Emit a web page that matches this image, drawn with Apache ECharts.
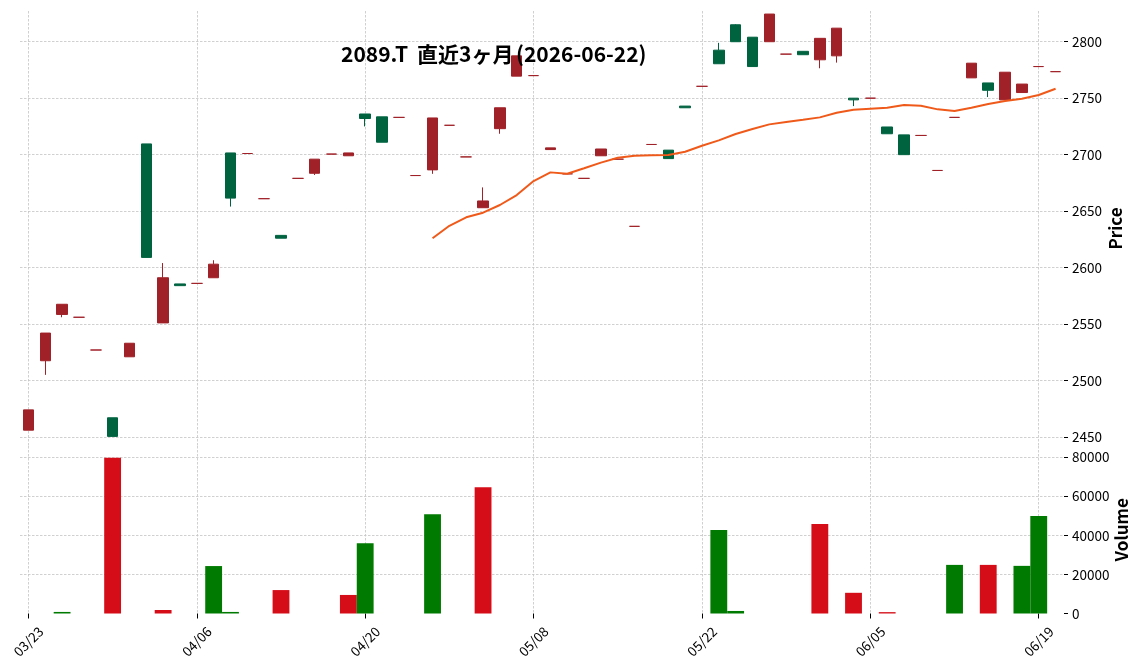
<!DOCTYPE html>
<html><head><meta charset="utf-8">
<script src="https://cdn.jsdelivr.net/npm/echarts@6/dist/echarts.min.js"></script>
<style>html,body{margin:0;padding:0;background:#fff}#c{width:1144px;height:670px}</style>
</head><body><div id="c"></div>
<script>
const dates = ['03/23','03/24','03/25','03/26','03/27','03/30','03/31','04/01','04/02','04/03',
'04/06','04/07','04/08','04/09','04/10','04/13','04/14','04/15','04/16','04/17',
'04/20','04/21','04/22','04/23','04/24','04/27','04/28','04/30','05/01','05/07',
'05/08','05/11','05/12','05/13','05/14','05/15','05/18','05/19','05/20','05/21',
'05/22','05/25','05/26','05/27','05/28','05/29','06/01','06/02','06/03','06/04',
'06/05','06/08','06/09','06/10','06/11','06/12','06/15','06/16','06/17','06/18',
'06/19','06/22'];
const opens = [2474,2542,2567.5,2556,2527,2450.5,2533,2609,2591,2584,
2586,2603,2661.5,2701,2661,2626,2679,2696,2700.5,2701.5,
2732,2711,2733,2681.5,2732.5,2726,2698,2659,2741.5,2787.5,
2770,2706,2683,2679,2705,2696,2636.5,2709,2696.5,2741.5,
2760.5,2780.5,2800,2778,2824.5,2789,2788.5,2803,2812,2748.5,
2750,2718.5,2700,2717,2686,2733,2781,2757,2773,2762.5,
2778,2773.5];
const closes = [2456,2517.5,2558.5,2556,2527,2467,2521,2709.5,2551,2585.5,
2586,2591,2701.5,2701,2661,2628.5,2679,2683.5,2700.5,2699,
2736,2733.5,2733,2681.5,2686.5,2726,2698,2653,2723,2769.5,
2770,2704.5,2683,2679,2699,2696,2636.5,2709,2704,2743,
2760.5,2792.5,2815,2804,2800,2789,2791.5,2784,2787.5,2750,
2750,2724.5,2717.5,2717,2686,2733,2768,2763.5,2748.5,2755,
2778,2773.5];
const lows = [2456,2505,2556,2556,2527,2450.5,2521,2609,2551,2584,
2586,2591,2654,2701,2661,2626,2679,2682,2700.5,2699,
2725,2711,2733,2681.5,2683,2726,2698,2653,2718.5,2769.5,
2770,2704.5,2683,2679,2699,2696,2636.5,2709,2696.5,2741.5,
2760.5,2780.5,2800,2778,2800,2789,2788.5,2776.5,2781.5,2743,
2750,2718.5,2700,2717,2686,2733,2768,2751,2748.5,2755,
2778,2773.5];
const highs = [2474,2542,2567.5,2556,2527,2467,2533,2709.5,2604,2585.5,
2586,2606.5,2701.5,2701,2661,2628.5,2679,2696,2700.5,2701.5,
2736,2733.5,2733,2681.5,2732.5,2726,2698,2671,2741.5,2787.5,
2770,2706,2683,2679,2705,2696,2636.5,2709,2704,2743,
2760.5,2799,2815.5,2804,2824.5,2789,2791.5,2803,2812,2750,
2750,2724.5,2717.5,2717,2686,2733,2781,2763.5,2773,2762.5,
2778,2773.5];
const volumes = [0,0,800,0,0,79800,0,0,1800,0,
0,24300,800,0,0,12000,0,0,0,9500,
36000,0,0,0,50900,0,0,64700,0,0,
0,0,0,0,0,0,0,0,0,0,
0,42800,1300,0,0,0,0,45800,0,10600,
0,700,0,0,0,24900,0,24900,0,24400,
49900,0];
const maStart = 24;
const ma25 = [2626,2637,2644.5,2648.6,2655.4,2664.2,2676.6,2684.3,2683.1,2687.9,
2692.9,2697.3,2699.1,2699.4,2699.7,2702.6,2707.9,2712.6,2718.3,2722.7,
2726.8,2728.9,2730.9,2733,2737.1,2739.8,2740.7,2741.6,2743.9,2743.3,
2740.1,2738.6,2741.6,2744.8,2747.5,2749.5,2752.8,2758.4];
const titleParts = ['2089.T', '直近3ヶ月', '(2026-06-22)'];

const UP = '#006340', DOWN = '#A02128', VUP = '#007a00', VDOWN = '#d50d18', MAC = '#ef5a1a';
const FONT = 'Noto Sans CJK JP';
const GRID = {color:'#c4c4c4', width:0.8, type:[2.5,1.5]};
const plain = v => String(v);

const candleData = dates.map((d,i)=>{
  const v = [opens[i], closes[i], lows[i], highs[i]];
  if (opens[i] === closes[i]) return {value:v, itemStyle:{color:DOWN,color0:DOWN,borderColor:DOWN,borderColor0:DOWN}};
  return v;
});
const volData = volumes.map((v,i)=>({value:v, itemStyle:{color: (i>0 && closes[i] < closes[i-1]) ? VDOWN : VUP}}));
const maData = dates.map((d,i)=> i < maStart ? null : ma25[i-maStart]);

function gridXAxis(gi){
  return {type:'value', gridIndex:gi, min:-0.5, max:dates.length-0.5, splitNumber:6, minInterval:10, maxInterval:10,
    axisLine:{show:false, onZero:false}, axisTick:{show:false}, axisLabel:{show:false},
    splitLine:{show:true, showMinLine:false, showMaxLine:false, lineStyle:GRID}};
}
const tStyle = {fontFamily:FONT, fontWeight:'bold', fontSize:21, color:'#000'};

const chart = echarts.init(document.getElementById('c'), null, {renderer:'canvas'});
chart.setOption({
  animation:false,
  backgroundColor:'#fff',
  title:{text:'{a|'+titleParts[0]+'}{b|'+titleParts[1]+'}{c|'+titleParts[2]+'}', left:341, top:44, padding:0,
    textStyle:Object.assign({}, tStyle, {rich:{
      a:Object.assign({}, tStyle, {width:76}),
      b:Object.assign({}, tStyle, {width:99}),
      c:Object.assign({}, tStyle)
    }})},
  grid:[
    {left:20, right:80, top:11, height:435},
    {left:20, right:80, top:446, height:167.5}
  ],
  xAxis:[
    {type:'category', gridIndex:0, data:dates, boundaryGap:true,
     axisLine:{show:false, onZero:false}, axisTick:{show:false}, axisLabel:{show:false}, splitLine:{show:false}},
    {type:'category', gridIndex:1, data:dates, boundaryGap:true,
     axisLine:{show:false, onZero:false},
     axisTick:{show:true, alignWithLabel:true, interval:9, length:5, lineStyle:{color:'#000', width:1}},
     axisLabel:{interval:9, rotate:45, align:'center', verticalAlign:'middle', margin:28, fontSize:13.5, color:'#000', fontFamily:FONT},
     splitLine:{show:false}},
    gridXAxis(0),
    gridXAxis(1)
  ],
  yAxis:[
    {type:'value', gridIndex:0, position:'right', min:2442, max:2827.2, splitNumber:8, minInterval:50, maxInterval:50,
     axisLine:{show:false, onZero:false},
     axisTick:{show:true, length:4, lineStyle:{color:'#000'}},
     axisLabel:{showMinLabel:false, showMaxLabel:false, margin:8, fontSize:13.5, color:'#000', fontFamily:FONT, formatter:plain},
     splitLine:{show:true, showMinLine:false, showMaxLine:false, lineStyle:GRID},
     name:'Price', nameLocation:'middle', nameRotate:90, nameGap:43, nameMoveOverlap:false,
     nameTextStyle:{fontFamily:FONT, fontWeight:'bold', fontSize:17, color:'#000'}},
    {type:'value', gridIndex:1, position:'right', min:0, max:85800, splitNumber:4, minInterval:20000, maxInterval:20000,
     axisLine:{show:false, onZero:false},
     axisTick:{show:true, length:4, lineStyle:{color:'#000'}},
     axisLabel:{showMinLabel:true, showMaxLabel:false, margin:8, fontSize:13.5, color:'#000', fontFamily:FONT, formatter:plain},
     splitLine:{show:true, showMinLine:false, showMaxLine:false, lineStyle:GRID},
     name:'Volume', nameLocation:'middle', nameRotate:90, nameGap:49, nameMoveOverlap:false,
     nameTextStyle:{fontFamily:FONT, fontWeight:'bold', fontSize:17, color:'#000'}}
  ],
  series:[
    {type:'candlestick', xAxisIndex:0, yAxisIndex:0, data:candleData, barWidth:11,
     itemStyle:{color:UP, color0:DOWN, borderColor:UP, borderColor0:DOWN, borderWidth:1}},
    {type:'line', xAxisIndex:0, yAxisIndex:0, data:maData, showSymbol:false, symbol:'none', smooth:false,
     lineStyle:{color:MAC, width:2}, z:5},
    {type:'bar', xAxisIndex:1, yAxisIndex:1, data:volData, barCategoryGap:'0%', barWidth:'100%'}
  ]
});
</script></body></html>
